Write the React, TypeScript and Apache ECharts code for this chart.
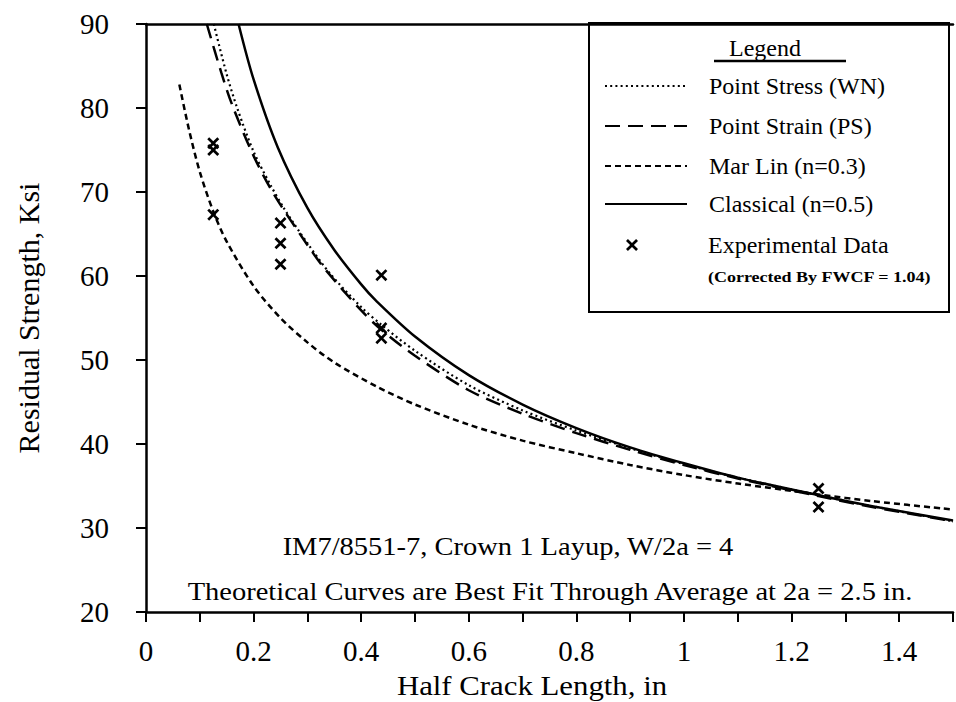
import React, { useEffect, useRef } from 'react';
import * as echarts from 'echarts';

const FONT = '"Liberation Serif", "Times New Roman", Times, serif';

// Experimental data (corrected by FWCF = 1.04)
const expX = [0.125, 0.125, 0.125, 0.25, 0.25, 0.25, 0.4375, 0.4375, 0.4375, 1.25, 1.25];
const expY = [75.8, 75.0, 67.3, 66.3, 63.9, 61.4, 60.1, 53.8, 52.6, 34.7, 32.5];

// Point Stress (WN)
const pointStressX = [0.126, 0.15, 0.17, 0.2, 0.23, 0.257, 0.3, 0.342, 0.4, 0.4375, 0.5, 0.6, 0.7, 0.8, 0.9, 1.0, 1.1, 1.25, 1.35, 1.5];
const pointStressY = [90, 84.0, 79.9, 74.8, 71.0, 68.0, 63.9, 60.3, 56.3, 54.2, 51.1, 47.0, 44.0, 41.6, 39.5, 37.6, 36.0, 33.9, 32.6, 30.8];

// Point Strain (PS)
const pointStrainX = [0.113, 0.14, 0.16, 0.2, 0.239, 0.3, 0.333, 0.4, 0.4375, 0.5, 0.6, 0.7, 0.8, 0.9, 1.0, 1.1, 1.25, 1.35, 1.5];
const pointStrainY = [90, 84.2, 80.4, 74.3, 69.6, 63.7, 60.8, 55.9, 53.6, 50.5, 46.4, 43.6, 41.3, 39.3, 37.5, 35.9, 33.8, 32.5, 30.8];

// Mar Lin (n=0.3)
const marLinX = [0.062, 0.08, 0.1, 0.125, 0.15, 0.2, 0.25, 0.3, 0.35, 0.43, 0.5, 0.6, 0.7, 0.8, 0.9, 1.0, 1.1, 1.25, 1.35, 1.5];
const marLinY = [82.8, 77.4, 72.4, 67.7, 64.1, 58.8, 55.0, 52.1, 49.7, 46.8, 44.7, 42.3, 40.4, 38.9, 37.5, 36.3, 35.3, 34.0, 33.2, 32.2];

// Classical (n=0.5)
const classicalX = [0.172, 0.2, 0.245, 0.3, 0.35, 0.4, 0.427, 0.5, 0.6, 0.7, 0.8, 0.9, 1.0, 1.1, 1.25, 1.35, 1.5];
const classicalY = [90, 83.4, 75.3, 68.1, 63.1, 59.0, 57.1, 52.8, 48.2, 44.7, 41.9, 39.6, 37.7, 36.0, 33.9, 32.6, 30.9];

const X_MIN = 0;
const X_MAX = 1.5;
const X_INTERVAL = 0.1;
const Y_MIN = 20;
const Y_MAX = 90;
const Y_INTERVAL = 10;

const NAMES = ['Point Stress (WN)', 'Point Strain (PS)', 'Mar Lin (n=0.3)', 'Classical (n=0.5)', 'Experimental Data'];

const X_SYMBOL =
  'path://M0,1.6 L1.6,0 L5,3.4 L8.4,0 L10,1.6 L6.6,5 L10,8.4 L8.4,10 L5,6.6 L1.6,10 L0,8.4 L3.4,5 Z';

const zip = (xs: number[], ys: number[]) => xs.map((x, i) => [x, ys[i]]);

export default function App() {
  const ref = useRef<HTMLDivElement>(null);

  useEffect(() => {
    if (!ref.current) return;
    const chart = echarts.init(ref.current, undefined, { renderer: 'svg' });

    const legendRowY = [88, 128, 168, 206, 247];
    const legendText = { fontFamily: FONT, fontSize: 24, color: '#000' };

    const lineLegends = NAMES.slice(0, 4).map((n, i) => ({
      data: [n],
      left: 604,
      top: legendRowY[i] - 14,
      padding: 0,
      itemWidth: 82,
      itemHeight: 28,
      selectedMode: false,
      itemStyle: { opacity: 0 },
      textStyle: { ...legendText, padding: [0, 0, 0, 17] },
    }));
    const scatterLegend = {
      data: [NAMES[4]],
      left: 626,
      top: legendRowY[4] - 14,
      padding: 0,
      itemWidth: 12,
      itemHeight: 12,
      selectedMode: false,
      itemStyle: { opacity: 1 },
      textStyle: { ...legendText, padding: [0, 0, 0, 65] },
    };

    const lineCommon = {
      type: 'line',
      symbol: 'none',
      showSymbol: false,
      smooth: 0.3,
      itemStyle: { color: '#000' },
      z: 3,
    };

    const option: any = {
      animation: false,
      backgroundColor: '#fff',
      textStyle: { fontFamily: FONT, color: '#000' },
      grid: { left: 146, top: 24, right: -12, bottom: 90, containLabel: false },
      legend: [...lineLegends, scatterLegend],
      xAxis: [
        {
          type: 'value',
          min: X_MIN,
          max: X_MAX,
          interval: X_INTERVAL,
          position: 'bottom',
          axisLine: { show: true, onZero: false, lineStyle: { color: '#000', width: 2.5 } },
          axisTick: { show: true, inside: false, length: 10, lineStyle: { color: '#000', width: 2 } },
          axisLabel: {
            show: true,
            margin: 24,
            fontFamily: FONT,
            fontSize: 29,
            color: '#000',
            formatter: (v: number) => {
              const k = Math.round(v * 10);
              return k % 2 === 0 ? String(k / 10) : '';
            },
          },
          splitLine: { show: false },
        },
        {
          type: 'value',
          min: X_MIN,
          max: X_MAX,
          position: 'top',
          axisLine: { show: true, onZero: false, lineStyle: { color: '#000', width: 2.5 } },
          axisTick: { show: false },
          axisLabel: { show: false },
          splitLine: { show: false },
        },
      ],
      yAxis: {
        type: 'value',
        min: Y_MIN,
        max: Y_MAX,
        interval: Y_INTERVAL,
        name: 'Residual Strength, Ksi',
        nameLocation: 'middle',
        nameGap: 103,
        nameTextStyle: { fontFamily: FONT, fontSize: 30, color: '#000' },
        axisLine: { show: true, onZero: false, lineStyle: { color: '#000', width: 2.5 } },
        axisTick: { show: true, inside: false, length: 10, lineStyle: { color: '#000', width: 2 } },
        axisLabel: { margin: 37, fontFamily: FONT, fontSize: 29, color: '#000' },
        splitLine: { show: false },
      },
      series: [
        {
          ...lineCommon,
          name: NAMES[0],
          data: zip(pointStressX, pointStressY),
          lineStyle: { color: '#000', width: 2.2, type: [2, 3.2] },
        },
        {
          ...lineCommon,
          name: NAMES[1],
          data: zip(pointStrainX, pointStrainY),
          lineStyle: { color: '#000', width: 2.5, type: [15, 8] },
        },
        {
          ...lineCommon,
          name: NAMES[2],
          data: zip(marLinX, marLinY),
          lineStyle: { color: '#000', width: 2.5, type: [6, 4] },
        },
        {
          ...lineCommon,
          name: NAMES[3],
          data: zip(classicalX, classicalY),
          lineStyle: { color: '#000', width: 2.5, type: 'solid' },
        },
        {
          name: NAMES[4],
          type: 'scatter',
          data: zip(expX, expY),
          symbol: X_SYMBOL,
          symbolSize: 12,
          itemStyle: { color: '#000', opacity: 1 },
          z: 4,
        },
      ],
      graphic: [
        {
          type: 'rect',
          shape: { x: 589, y: 23, width: 360, height: 289 },
          style: { fill: 'rgba(255,255,255,0)', stroke: '#000', lineWidth: 2 },
          z: 10,
        },
        {
          type: 'text',
          x: 765,
          y: 48,
          style: { text: 'Legend', fontFamily: FONT, fontSize: 24, fill: '#000', align: 'center', verticalAlign: 'middle' },
          z: 10,
        },
        {
          type: 'line',
          shape: { x1: 714, y1: 61, x2: 846, y2: 61 },
          style: { stroke: '#000', lineWidth: 2.5 },
          z: 10,
        },
        {
          type: 'text',
          x: 708,
          y: 277,
          scaleX: 1.2,
          style: {
            text: '(Corrected By FWCF = 1.04)',
            fontFamily: FONT,
            fontSize: 15,
            fontWeight: 'bold',
            fill: '#000',
            align: 'left',
            verticalAlign: 'middle',
          },
          z: 10,
        },
        {
          type: 'text',
          x: 508,
          y: 547,
          scaleX: 1.14,
          style: {
            text: 'IM7/8551-7, Crown 1 Layup, W/2a = 4',
            fontFamily: FONT,
            fontSize: 25,
            fill: '#000',
            align: 'center',
            verticalAlign: 'middle',
          },
          z: 10,
        },
        {
          type: 'text',
          x: 550,
          y: 592,
          scaleX: 1.14,
          style: {
            text: 'Theoretical Curves are Best Fit Through Average at 2a = 2.5 in.',
            fontFamily: FONT,
            fontSize: 25,
            fill: '#000',
            align: 'center',
            verticalAlign: 'middle',
          },
          z: 10,
        },
        {
          type: 'text',
          x: 532,
          y: 685,
          scaleX: 1.1,
          style: {
            text: 'Half Crack Length, in',
            fontFamily: FONT,
            fontSize: 28,
            fill: '#000',
            align: 'center',
            verticalAlign: 'middle',
          },
          z: 10,
        },
      ],
    };

    chart.setOption(option);
    return () => chart.dispose();
  }, []);

  return (
    <div
      ref={ref}
      style={{ position: 'fixed', left: 0, top: 0, width: 956, height: 702, background: '#fff' }}
    />
  );
}
